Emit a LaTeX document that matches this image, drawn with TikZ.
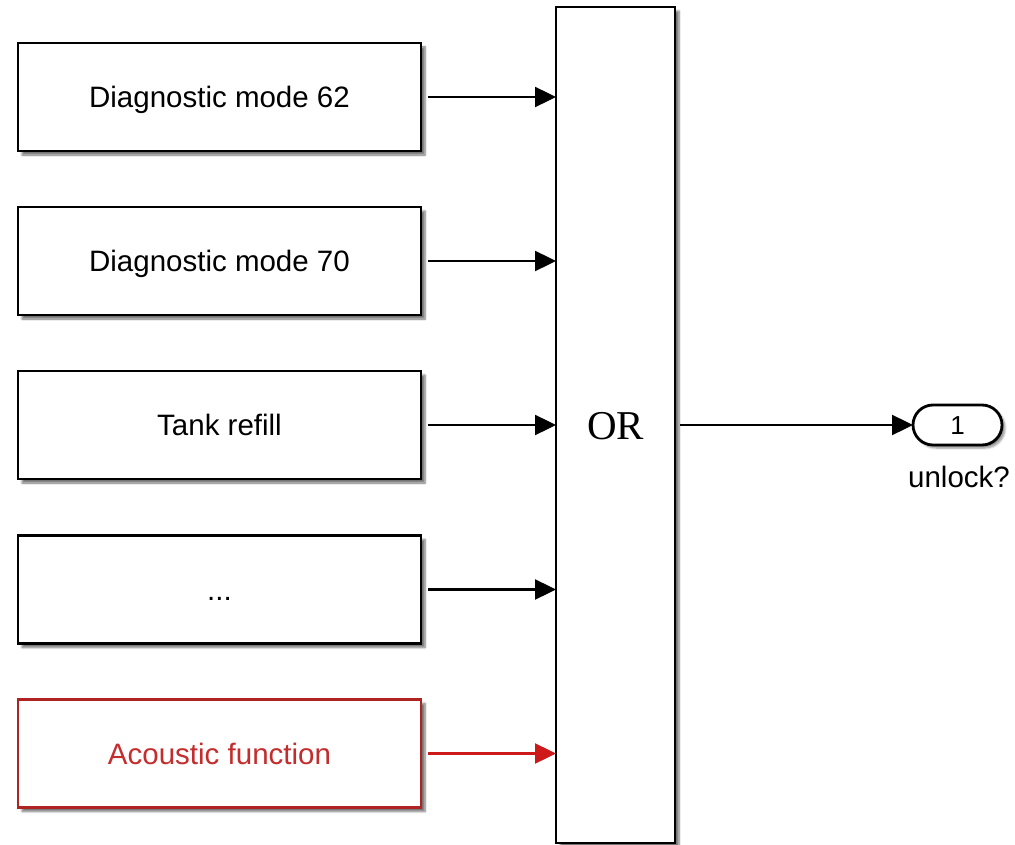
\documentclass[tikz,border=0pt]{standalone}
\usepackage{fontspec}
\setmainfont{Liberation Sans}
\newfontfamily\orfont{Liberation Serif}
\usetikzlibrary{arrows.meta,shadows.blur,shapes.misc}
\definecolor{sigred}{RGB}{205,25,25}
\definecolor{boxred}{RGB}{175,35,35}
\definecolor{txtred}{RGB}{195,45,45}
\begin{document}
\begin{tikzpicture}[x=1pt,y=-1pt,
  blk/.style={draw,line width=2.8pt,fill=white,minimum width=403pt,minimum height=108pt,
    inner sep=0pt,outer sep=0pt,font=\fontsize{29.5}{34}\selectfont,text height=21pt,text depth=0pt,
    blur shadow={shadow xshift=4pt,shadow yshift=-4pt,shadow blur steps=6,shadow opacity=55}},
  sig/.style={line width=2.4pt,-{Triangle[length=21pt,width=20pt]}}]
\useasboundingbox (0,0) rectangle (1015,845);
% the OR block
\node[blk,minimum width=119pt,minimum height=836pt,text height=28pt,
  font=\orfont\fontsize{41}{44}\selectfont] (orblk) at (615.5,425) {OR};
% inputs
\node[blk] (d62) at (219.5,97) {Diagnostic mode 62};
\node[blk] (d70) at (219.5,261) {Diagnostic mode 70};
\node[blk] (tank) at (219.5,425) {Tank refill};
\node[blk] (more) at (219.5,589.5) {...};
\node[blk,draw=boxred,text=txtred] (acou) at (219.5,753.5) {Acoustic function};
\draw[sig,shorten <=7pt] (d62) -- (d62 -| orblk.west);
\draw[sig,shorten <=7pt] (d70) -- (d70 -| orblk.west);
\draw[sig,shorten <=7pt] (tank) -- (tank -| orblk.west);
\draw[sig,shorten <=7pt] (more) -- (more -| orblk.west);
\draw[sig,sigred,shorten <=7pt] (acou) -- (acou -| orblk.west);
% output port
\node[rounded rectangle,draw,line width=2.8pt,fill=white,minimum width=89pt,minimum height=40pt,
  inner sep=0pt,outer sep=0pt,font=\fontsize{26}{30}\selectfont,text height=18pt,text depth=0pt,
  blur shadow={shadow xshift=3pt,shadow yshift=-3pt,shadow blur steps=5,shadow opacity=45}] (outp) at (957.5,425) {1};
\node[font=\fontsize{29.5}{34}\selectfont] (outlbl) at (959,477) {unlock?};
\draw[sig,shorten <=5pt] (orblk) -- (outp);
\end{tikzpicture}
\end{document}
